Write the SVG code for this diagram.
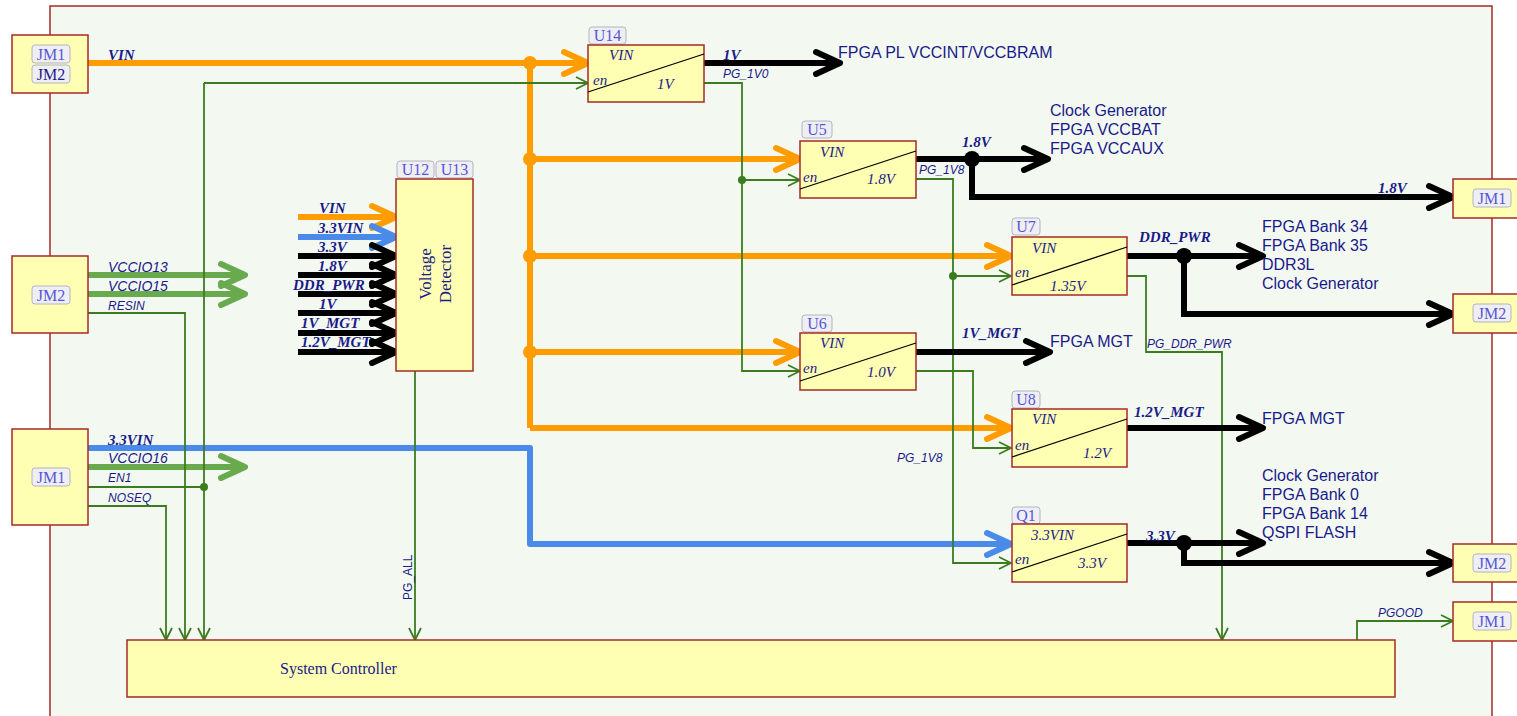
<svg xmlns="http://www.w3.org/2000/svg" width="1517" height="716" viewBox="0 0 1517 716">
<style>
.box{fill:#ffffb3;stroke:#a52a2a;stroke-width:1.5}
.frame{fill:#f3f9f1;stroke:#a52a2a;stroke-width:1.5}
.tagr{fill:#eeeef3;stroke:#b4b4c2;stroke-width:1}
.tag{font-family:"Liberation Serif",serif;font-size:16px;fill:#5656d8;text-anchor:middle}
.tagd{fill:#1a1a8a}
.lb{font-family:"Liberation Serif",serif;font-size:15px;font-weight:bold;font-style:italic;fill:#1a1a8a}
.li{font-family:"Liberation Serif",serif;font-size:15px;font-style:italic;fill:#1a1a8a}
.ls{font-family:"Liberation Sans",sans-serif;font-size:12px;font-style:italic;fill:#1a1a8a}
.lv{font-family:"Liberation Sans",sans-serif;font-size:14px;font-style:italic;fill:#1a1a8a}
.dest{font-family:"Liberation Sans",sans-serif;font-size:16px;fill:#1a1a8a}
.big{font-family:"Liberation Serif",serif;font-size:17px;fill:#1a1a8a;text-anchor:middle}
.sc{font-family:"Liberation Serif",serif;font-size:16px;fill:#1a1a8a}
.diag{stroke:#000;stroke-width:1.3}
.o{fill:none;stroke:#ff9c00;stroke-width:6;marker-end:url(#mO)}
.on{fill:none;stroke:#ff9c00;stroke-width:6}
.b{fill:none;stroke:#4a8ae8;stroke-width:6;stroke-linejoin:round;marker-end:url(#mB)}
.k{fill:none;stroke:#000;stroke-width:6;marker-end:url(#mK)}
.gt{fill:none;stroke:#6aaa4f;stroke-width:6;marker-end:url(#mGT)}
.g{fill:none;stroke:#3b7d1e;stroke-width:1.8;marker-end:url(#mG)}
.gn{fill:none;stroke:#3b7d1e;stroke-width:1.8}
</style>
<defs>
<marker id="mO" markerUnits="userSpaceOnUse" orient="auto" refX="0" refY="0" overflow="visible"><path d="M-24,-11 L0,0 L-24,11" fill="none" stroke="#ff9c00" stroke-width="6" stroke-linecap="round" stroke-linejoin="round"/></marker>
<marker id="mB" markerUnits="userSpaceOnUse" orient="auto" refX="0" refY="0" overflow="visible"><path d="M-24,-11 L0,0 L-24,11" fill="none" stroke="#4a8ae8" stroke-width="6" stroke-linecap="round" stroke-linejoin="round"/></marker>
<marker id="mK" markerUnits="userSpaceOnUse" orient="auto" refX="0" refY="0" overflow="visible"><path d="M-24,-11 L0,0 L-24,11" fill="none" stroke="#000" stroke-width="6" stroke-linecap="round" stroke-linejoin="round"/></marker>
<marker id="mGT" markerUnits="userSpaceOnUse" orient="auto" refX="0" refY="0" overflow="visible"><path d="M-24,-11 L0,0 L-24,11" fill="none" stroke="#6aaa4f" stroke-width="6" stroke-linecap="round" stroke-linejoin="round"/></marker>
<marker id="mG" markerUnits="userSpaceOnUse" orient="auto" refX="0" refY="0" overflow="visible"><path d="M-12,-6 L0,0 L-12,6" fill="none" stroke="#3b7d1e" stroke-width="1.8"/></marker>
</defs>
<rect width="1517" height="716" fill="#ffffff"/>
<rect class="frame" x="50" y="6" width="1442" height="730"/>

<g id="connectors">
  <!-- VIN trunk -->
  <path class="o" d="M88,63 H588"/>
  <path class="on" d="M530,63 V428"/>
  <path class="o" d="M530,159 H800"/>
  <path class="o" d="M530,256 H1011"/>
  <path class="o" d="M530,352 H800"/>
  <path class="o" d="M530,428 H1011"/>
  <circle cx="530" cy="63" r="7" fill="#ff9c00"/>
  <circle cx="530" cy="159" r="7" fill="#ff9c00"/>
  <circle cx="530" cy="256" r="7" fill="#ff9c00"/>
  <circle cx="530" cy="352" r="7" fill="#ff9c00"/>
  <!-- 3.3VIN -->
  <path class="b" d="M88,448 H530 V544 H1011"/>
  <!-- green thick -->
  <path class="gt" d="M88,275 H245"/>
  <path class="gt" d="M88,294 H245"/>
  <path class="gt" d="M88,467 H245"/>
  <!-- green thin -->
  <path class="g" d="M204,83 H588"/>
  <path class="g" d="M204,83 V640"/>
  <path class="gn" d="M88,487 H204"/>
  <circle cx="204" cy="487" r="4" fill="#3b7d1e"/>
  <path class="g" d="M88,313 H185 V640"/>
  <path class="g" d="M88,506 H166 V640"/>
  <path class="g" d="M704,83 H742 V371 H800"/>
  <path class="g" d="M742,180 H800"/>
  <circle cx="742" cy="180" r="4" fill="#3b7d1e"/>
  <path class="g" d="M916,179 H953 V563 H1011"/>
  <path class="g" d="M953,276 H1011"/>
  <circle cx="953" cy="276" r="4" fill="#3b7d1e"/>
  <path class="g" d="M916,371 H973 V448 H1011"/>
  <path class="g" d="M1127,276 H1146 V352 H1222 V640"/>
  <path class="g" d="M415,371 V640"/>
  <path class="g" d="M1357,640 V621 H1453"/>
  <!-- black outputs -->
  <path class="k" d="M704,63 H840"/>
  <path class="k" d="M916,159 H1048"/>
  <path class="k" d="M972,159 V197 H1453"/>
  <circle cx="972" cy="159" r="8" fill="#000"/>
  <path class="k" d="M1127,256 H1263"/>
  <path class="k" d="M1184,256 V314 H1453"/>
  <circle cx="1184" cy="256" r="8" fill="#000"/>
  <path class="k" d="M916,352 H1050"/>
  <path class="k" d="M1127,428 H1263"/>
  <path class="k" d="M1127,543 H1263"/>
  <path class="k" d="M1184,543 V563 H1453"/>
  <circle cx="1184" cy="543" r="8" fill="#000"/>
  <!-- Voltage detector inputs -->
  <path class="o" d="M298,217 H396"/>
  <path class="b" d="M298,237 H396"/>
  <path class="k" d="M298,256 H396"/>
  <path class="k" d="M298,275 H396"/>
  <path class="k" d="M298,294 H396"/>
  <path class="k" d="M298,313 H396"/>
  <path class="k" d="M298,333 H396"/>
  <path class="k" d="M298,352 H396"/>
  <!-- labels -->
  <text class="lb" x="108" y="60">VIN</text>
  <text class="lv" x="108" y="272">VCCIO13</text>
  <text class="lv" x="108" y="291">VCCIO15</text>
  <text class="ls" x="108" y="310">RESIN</text>
  <text class="lb" x="108" y="445">3.3VIN</text>
  <text class="lv" x="108" y="463">VCCIO16</text>
  <text class="ls" x="108" y="482">EN1</text>
  <text class="ls" x="108" y="502">NOSEQ</text>
  <text class="lb" x="319" y="213">VIN</text>
  <text class="lb" x="318" y="233">3.3VIN</text>
  <text class="lb" x="318" y="252">3.3V</text>
  <text class="lb" x="318" y="271">1.8V</text>
  <text class="lb" x="293" y="290">DDR_PWR</text>
  <text class="lb" x="319" y="309">1V</text>
  <text class="lb" x="301" y="328">1V_MGT</text>
  <text class="lb" x="301" y="347">1.2V_MGT</text>
  <text class="lb" x="723" y="60">1V</text>
  <text class="ls" x="723" y="78">PG_1V0</text>
  <text class="lb" x="962" y="147">1.8V</text>
  <text class="ls" x="919" y="174">PG_1V8</text>
  <text class="lb" x="1378" y="193">1.8V</text>
  <text class="lb" x="1139" y="242">DDR_PWR</text>
  <text class="lb" x="962" y="338">1V_MGT</text>
  <text class="ls" x="1147" y="348">PG_DDR_PWR</text>
  <text class="lb" x="1134" y="417">1.2V_MGT</text>
  <text class="ls" x="897" y="462">PG_1V8</text>
  <text class="lb" x="1146" y="541">3.3V</text>
  <text class="ls" x="1378" y="617">PGOOD</text>
  <text font-family="Liberation Sans, sans-serif" font-size="12" fill="#1a1a8a" transform="translate(412,600) rotate(-90)">PG_ALL</text>
  <text class="dest" x="838" y="58">FPGA PL VCCINT/VCCBRAM</text>
  <text class="dest" x="1050" y="116">Clock Generator</text>
  <text class="dest" x="1050" y="135">FPGA VCCBAT</text>
  <text class="dest" x="1050" y="154">FPGA VCCAUX</text>
  <text class="dest" x="1262" y="232">FPGA Bank 34</text>
  <text class="dest" x="1262" y="251">FPGA Bank 35</text>
  <text class="dest" x="1262" y="270">DDR3L</text>
  <text class="dest" x="1262" y="289">Clock Generator</text>
  <text class="dest" x="1050" y="347">FPGA MGT</text>
  <text class="dest" x="1262" y="424">FPGA MGT</text>
  <text class="dest" x="1262" y="481">Clock Generator</text>
  <text class="dest" x="1262" y="500">FPGA Bank 0</text>
  <text class="dest" x="1262" y="519">FPGA Bank 14</text>
  <text class="dest" x="1262" y="538">QSPI FLASH</text>
</g>

<g id="JM12_top">
  <rect class="box" x="12" y="35" width="76" height="58"/>
  <rect class="tagr" x="32" y="45" width="38" height="18" rx="3"/>
  <text class="tag" x="51" y="60">JM1</text>
  <rect class="tagr" x="32" y="65" width="38" height="18" rx="3"/>
  <text class="tag tagd" x="51" y="80">JM2</text>
</g>
<g id="JM2_left">
  <rect class="box" x="12" y="256" width="76" height="77"/>
  <rect class="tagr" x="32" y="286" width="38" height="18" rx="3"/>
  <text class="tag" x="51" y="301">JM2</text>
</g>
<g id="JM1_left">
  <rect class="box" x="12" y="429" width="76" height="96"/>
  <rect class="tagr" x="32" y="468" width="38" height="18" rx="3"/>
  <text class="tag" x="51" y="483">JM1</text>
</g>

<g id="U14">
  <rect class="tagr" x="589" y="27" width="37" height="17" rx="3"/>
  <text class="tag" x="607.5" y="41">U14</text>
  <rect class="box" x="588" y="45" width="116" height="57"/>
  <line class="diag" x1="588" y1="92" x2="704" y2="54"/>
  <text class="li" x="609" y="60">VIN</text>
  <text class="li" x="593" y="85">en</text>
  <text class="li" x="657" y="89">1V</text>
</g>
<g id="U5">
  <rect class="tagr" x="802" y="121" width="30" height="17" rx="3"/>
  <text class="tag" x="817" y="135">U5</text>
  <rect class="box" x="800" y="141" width="116" height="57"/>
  <line class="diag" x1="800" y1="189" x2="916" y2="151"/>
  <text class="li" x="820" y="157">VIN</text>
  <text class="li" x="803" y="182">en</text>
  <text class="li" x="867" y="184">1.8V</text>
</g>
<g id="U7">
  <rect class="tagr" x="1012" y="218" width="28" height="17" rx="3"/>
  <text class="tag" x="1026" y="232">U7</text>
  <rect class="box" x="1012" y="237" width="115" height="58"/>
  <line class="diag" x1="1012" y1="285" x2="1127" y2="247"/>
  <text class="li" x="1032" y="253">VIN</text>
  <text class="li" x="1015" y="277">en</text>
  <text class="li" x="1050" y="291">1.35V</text>
</g>
<g id="U6">
  <rect class="tagr" x="802" y="315" width="30" height="17" rx="3"/>
  <text class="tag" x="817" y="329">U6</text>
  <rect class="box" x="800" y="333" width="116" height="57"/>
  <line class="diag" x1="800" y1="381" x2="916" y2="343"/>
  <text class="li" x="820" y="348">VIN</text>
  <text class="li" x="803" y="373">en</text>
  <text class="li" x="867" y="377">1.0V</text>
</g>
<g id="U8">
  <rect class="tagr" x="1012" y="391" width="28" height="17" rx="3"/>
  <text class="tag" x="1026" y="405">U8</text>
  <rect class="box" x="1012" y="409" width="115" height="58"/>
  <line class="diag" x1="1012" y1="457" x2="1127" y2="419"/>
  <text class="li" x="1032" y="424">VIN</text>
  <text class="li" x="1015" y="450">en</text>
  <text class="li" x="1083" y="458">1.2V</text>
</g>
<g id="Q1">
  <rect class="tagr" x="1012" y="507" width="28" height="17" rx="3"/>
  <text class="tag" x="1026" y="521">Q1</text>
  <rect class="box" x="1012" y="524" width="115" height="58"/>
  <line class="diag" x1="1012" y1="572" x2="1127" y2="534"/>
  <text class="li" x="1031" y="540">3.3VIN</text>
  <text class="li" x="1015" y="564">en</text>
  <text class="li" x="1078" y="568">3.3V</text>
</g>
<g id="VoltageDetector">
  <rect class="tagr" x="397" y="161" width="37" height="17" rx="3"/>
  <text class="tag" x="415.5" y="175">U12</text>
  <rect class="tagr" x="436" y="161" width="37" height="17" rx="3"/>
  <text class="tag" x="454.5" y="175">U13</text>
  <rect class="box" x="396" y="179" width="77" height="192"/>
  <text class="big" transform="translate(431,274) rotate(-90)">Voltage</text>
  <text class="big" transform="translate(451,274) rotate(-90)">Detector</text>
</g>
<g id="SystemController">
  <rect class="box" x="127" y="640" width="1268" height="57"/>
  <text class="sc" x="280" y="674">System Controller</text>
</g>
<g id="JM1_r1">
  <rect class="box" x="1453" y="179" width="80" height="39"/>
  <rect class="tagr" x="1473" y="189" width="38" height="18" rx="3"/>
  <text class="tag" x="1492" y="204">JM1</text>
</g>
<g id="JM2_r1">
  <rect class="box" x="1453" y="294" width="80" height="39"/>
  <rect class="tagr" x="1473" y="304" width="38" height="18" rx="3"/>
  <text class="tag" x="1492" y="319">JM2</text>
</g>
<g id="JM2_r2">
  <rect class="box" x="1453" y="544" width="80" height="38"/>
  <rect class="tagr" x="1473" y="554" width="38" height="18" rx="3"/>
  <text class="tag" x="1492" y="569">JM2</text>
</g>
<g id="JM1_r2">
  <rect class="box" x="1453" y="602" width="80" height="39"/>
  <rect class="tagr" x="1473" y="612" width="38" height="18" rx="3"/>
  <text class="tag" x="1492" y="627">JM1</text>
</g>
</svg>
